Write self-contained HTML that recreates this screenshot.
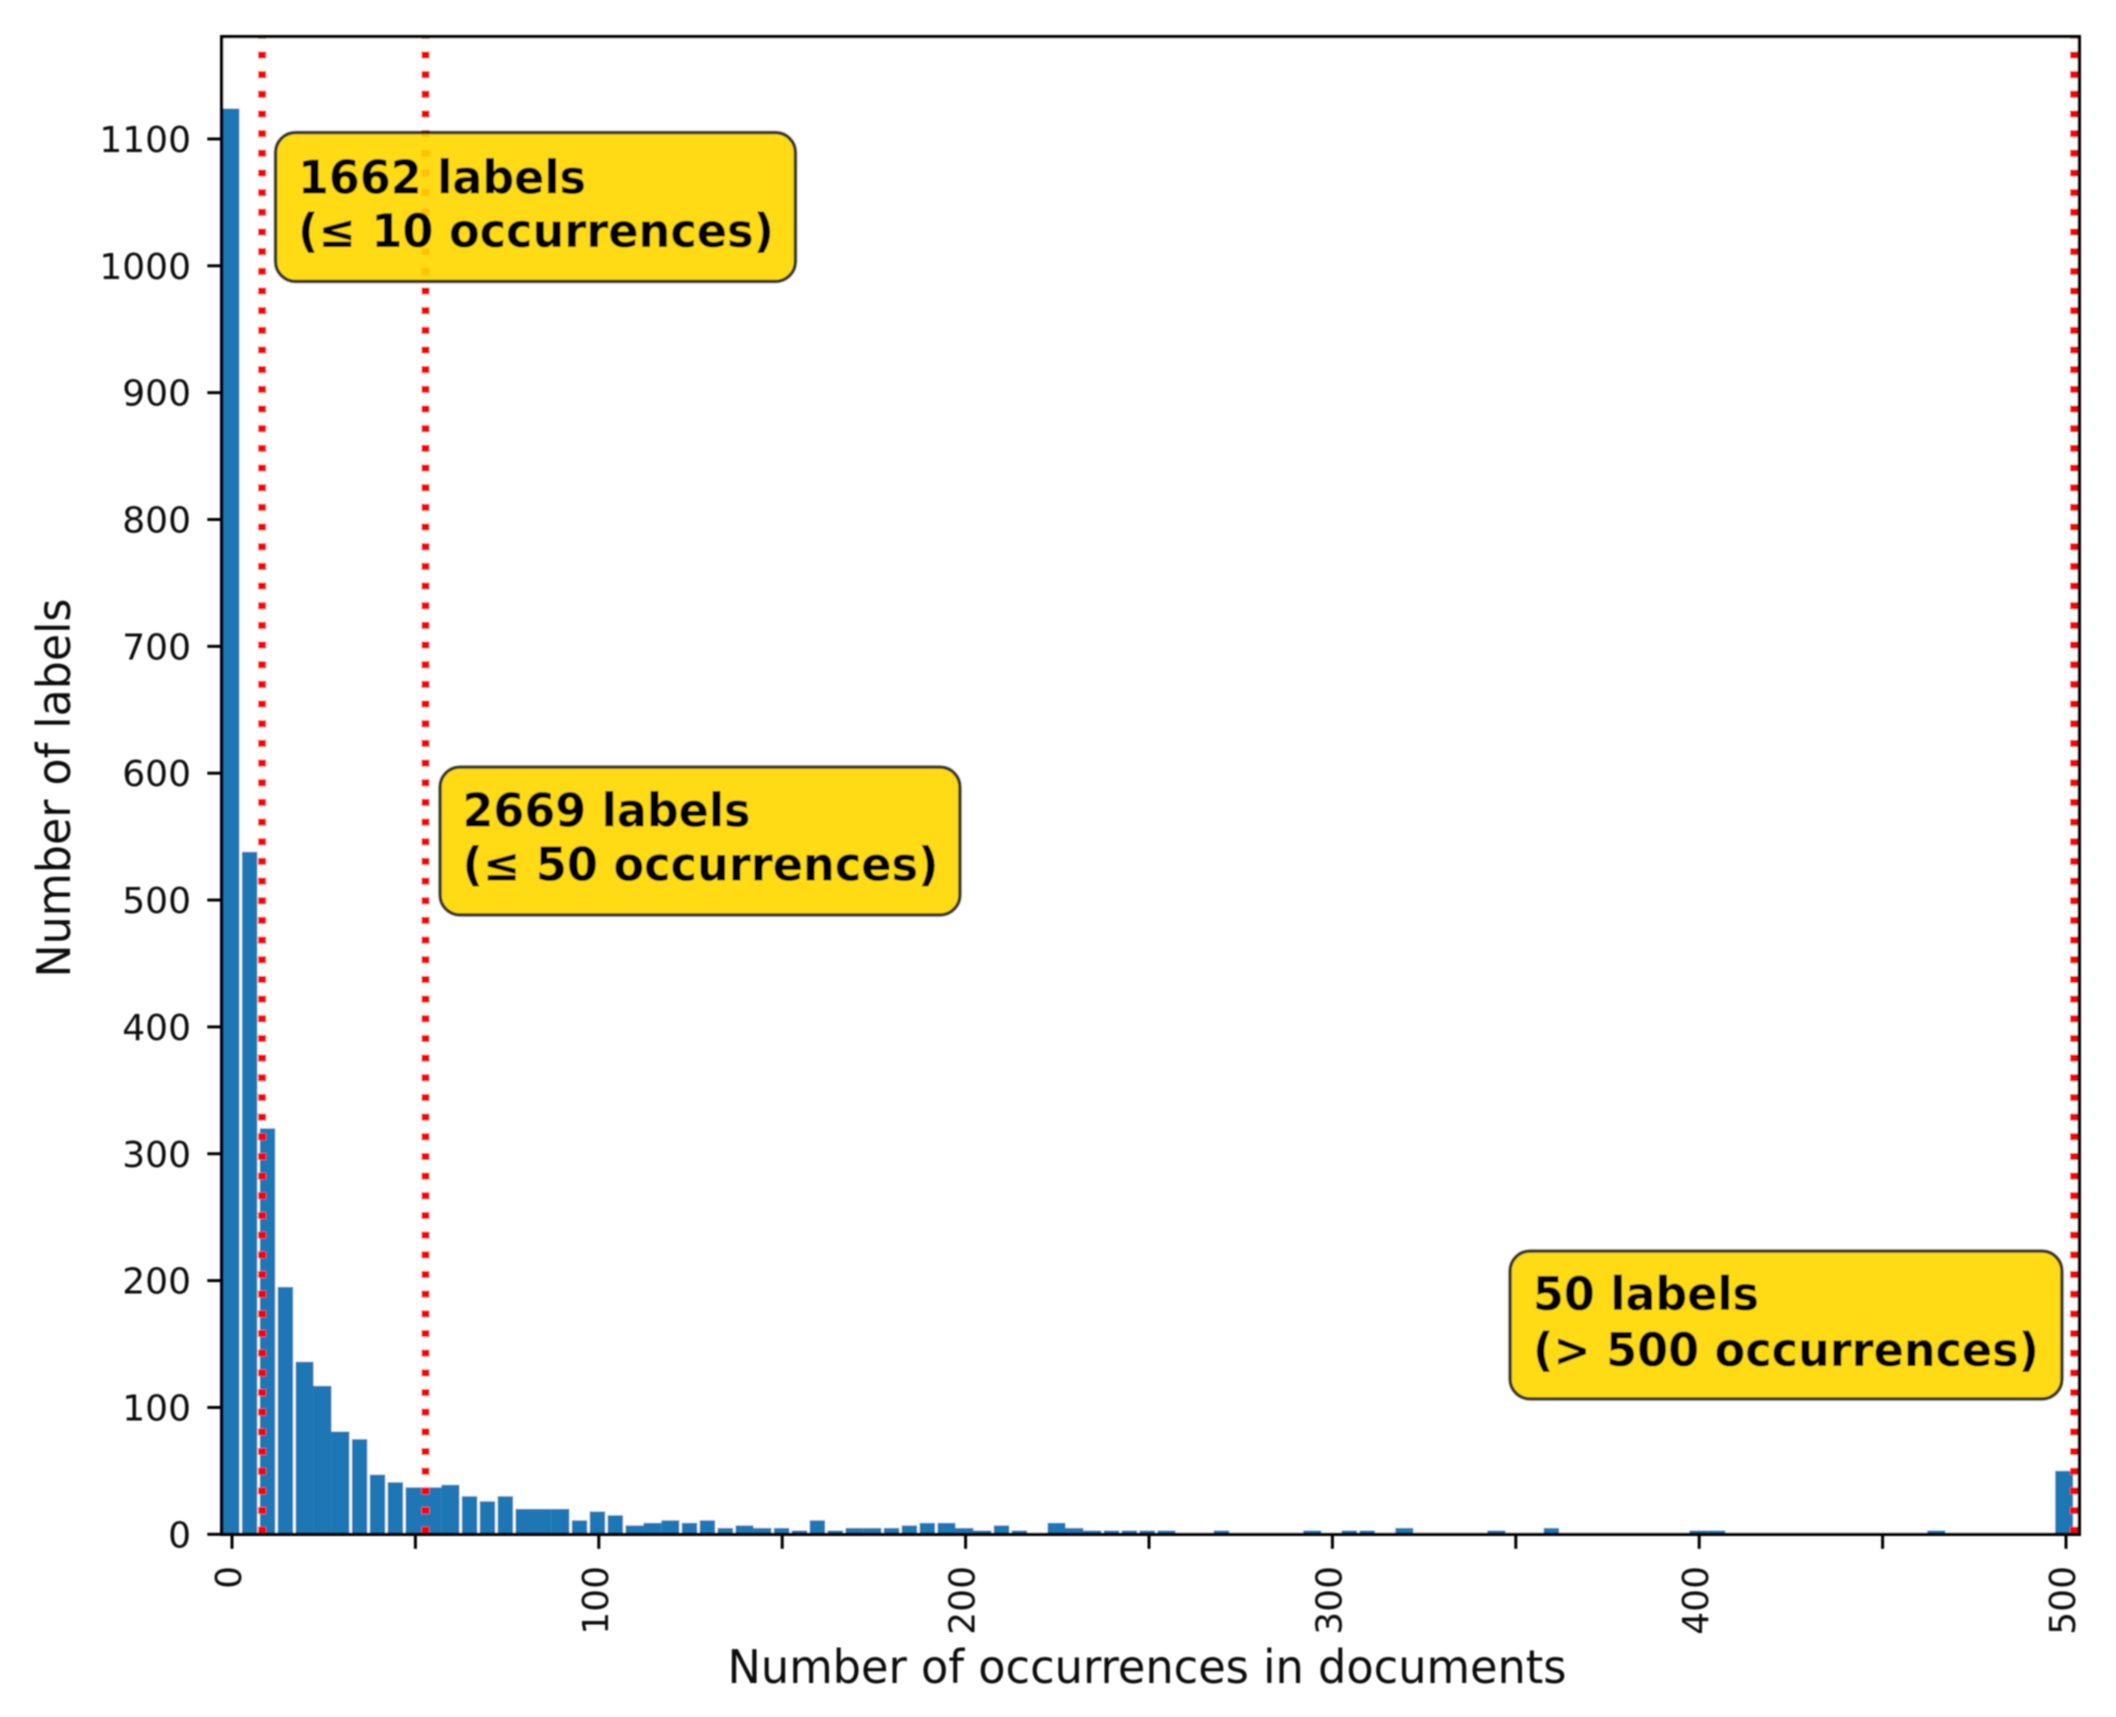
<!DOCTYPE html>
<html lang="en">
<head>
<meta charset="utf-8">
<title>Label occurrence histogram</title>
<style>
  html, body { margin: 0; padding: 0; background: #fff; width: 2116px; height: 1717px; overflow: hidden; }
  svg { display: block; }
  text { font-family: "DejaVu Sans", "Liberation Sans", sans-serif; fill: #000; }
  .tick-label { font-size: 36px; fill: #111; }
  .axis-title { font-size: 46px; fill: #111; }
  .note-text { font-size: 46px; font-weight: 700; }
  .note-box { fill: #FFD700; fill-opacity: .9; stroke: #222; stroke-opacity: .9; stroke-width: 3.5; }
</style>
</head>
<body>
<svg id="chart" xmlns="http://www.w3.org/2000/svg" width="2116" height="1717" viewBox="0 0 2116 1717">
  <defs>
    <clipPath id="plot-clip"><rect x="221.7" y="36.7" width="1857.6" height="1497.6"/></clipPath>
    <filter id="soft" x="-2%" y="-2%" width="104%" height="104%"><feGaussianBlur stdDeviation="0.8"/></filter>
  </defs>
  <g filter="url(#soft)">
    <rect x="221.7" y="36.7" width="1857.6" height="1497.6" fill="#fff"/>
    <g id="bars" clip-path="url(#plot-clip)"></g>
    <g id="thresholds" clip-path="url(#plot-clip)"></g>

    <g>
      <rect class="note-box" x="275.5" y="132.5" width="520" height="149" rx="20"/>
      <text class="note-text" x="298" y="193.5" textLength="288" lengthAdjust="spacingAndGlyphs">1662 labels</text>
      <text class="note-text" x="298" y="247" textLength="476" lengthAdjust="spacingAndGlyphs">(≤ 10 occurrences)</text>
    </g>
    <g>
      <rect class="note-box" x="440" y="767" width="520" height="148" rx="20"/>
      <text class="note-text" x="462.5" y="826.5" textLength="288" lengthAdjust="spacingAndGlyphs">2669 labels</text>
      <text class="note-text" x="462.5" y="880.5" textLength="476" lengthAdjust="spacingAndGlyphs">(≤ 50 occurrences)</text>
    </g>
    <g>
      <rect class="note-box" x="1510" y="1251" width="552" height="148" rx="20"/>
      <text class="note-text" x="1533" y="1310" textLength="226" lengthAdjust="spacingAndGlyphs">50 labels</text>
      <text class="note-text" x="1533" y="1366" textLength="506" lengthAdjust="spacingAndGlyphs">(&gt; 500 occurrences)</text>
    </g>

    <g id="x-axis"></g>
    <g id="y-axis"></g>
    <rect x="221.7" y="36.7" width="1857.6" height="1497.6" fill="none" stroke="#000" stroke-width="3.4"/>

    <text class="axis-title" x="727.5" y="1683" textLength="839" lengthAdjust="spacingAndGlyphs">Number of occurrences in documents</text>
    <text class="axis-title" transform="translate(70 977.5) rotate(-90)" textLength="379" lengthAdjust="spacingAndGlyphs">Number of labels</text>
  </g>
</svg>
<script>
const binCounts = [
  1124, 538, 320, 195, 136, 117, 81, 75, 47, 41,
  37, 37, 39, 30, 26, 30, 20, 20, 20, 11,
  18, 15, 7, 9, 11, 9, 11, 5, 7, 5,
  5, 3, 11, 3, 5, 5, 5, 7, 9, 9,
  5, 3, 7, 3, 0, 9, 5, 3, 3, 3,
  3, 3, 0, 0, 3, 0, 0, 0, 0, 3,
  0, 3, 3, 0, 5, 0, 0, 0, 0, 3,
  0, 0, 5, 0, 0, 0, 0, 0, 0, 0,
  3, 3, 0, 0, 0, 0, 0, 0, 0, 0,
  0, 0, 0, 3, 0, 0, 0, 0, 0, 0,
  50
];
const firstBinCentre = -0.35;
const binStep = 5;
const barFraction = 0.9;
const thresholds = [8.2, 52.75, 502.2];
const xTicks = [0, 50, 100, 150, 200, 250, 300, 350, 400, 450, 500];
const xTickLabels = ["0", "", "100", "", "200", "", "300", "", "400", "", "500"];
const yTicks = [0, 100, 200, 300, 400, 500, 600, 700, 800, 900, 1000, 1100];

const NS = 'http://www.w3.org/2000/svg';
const plotTop = 36.7;
const plotBottom = 1534.3;
function xScale(v) { return 232 + v * 3.668; }
function yScale(v) { return plotBottom - v * 1.2685; }
// Bar edges sit on a coarse pixel grid, which closes some gaps between neighbours.
function snapX(px) { const g = 2.5575; return (Math.round(px / g + 0.4) - 0.4) * g; }
function make(tag, attrs, parent) {
  const el = document.createElementNS(NS, tag);
  for (const k in attrs) el.setAttribute(k, attrs[k]);
  parent.appendChild(el);
  return el;
}

const barsGroup = document.getElementById('bars');
binCounts.forEach(function (count, i) {
  if (count === 0) return;
  const centre = firstBinCentre + binStep * i;
  const halfWidth = binStep * barFraction / 2;
  const left = snapX(xScale(centre - halfWidth));
  const right = snapX(xScale(centre + halfWidth));
  const bar = make('rect', {
    x: left,
    y: yScale(count),
    width: right - left,
    height: yScale(0) - yScale(count),
    fill: '#1f77b4'
  }, barsGroup);
  
  
});

const linesGroup = document.getElementById('thresholds');
thresholds.forEach(function (value) {
  const line = make('line', {
    x1: xScale(value), x2: xScale(value),
    y1: plotBottom - 0.6, y2: plotTop,
    stroke: '#ff0000',
    'stroke-width': 8,
    'stroke-dasharray': '7 12.67'
  }, linesGroup);
  
  
});

const xAxis = document.getElementById('x-axis');
xTicks.forEach(function (value, i) {
  const px = xScale(value);
  const tick = make('line', { x1: px, x2: px, y1: plotBottom, y2: plotBottom + 14.5, stroke: '#000', 'stroke-width': 3 }, xAxis);
  
  
  if (xTickLabels[i]) {
    const label = make('text', { class: 'tick-label', transform: 'translate(' + (px + 9) + ' 1566) rotate(-90)', 'text-anchor': 'end' }, xAxis);
    label.textContent = xTickLabels[i];
    
    
  }
});

const yAxis = document.getElementById('y-axis');
yTicks.forEach(function (value) {
  const py = yScale(value);
  const tick = make('line', { x1: 207.3, x2: 221.7, y1: py, y2: py, stroke: '#000', 'stroke-width': 3 }, yAxis);
  
  
  const label = make('text', { class: 'tick-label', x: 191, y: py + 13, 'text-anchor': 'end' }, yAxis);
  label.textContent = String(value);
  
  
});
</script>
</body>
</html>
